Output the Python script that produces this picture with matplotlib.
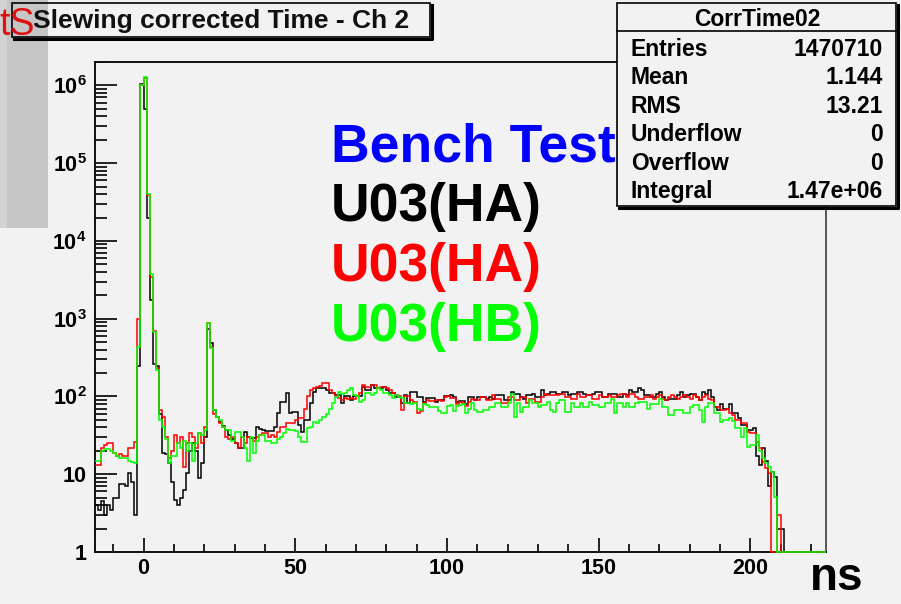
import numpy as np
import matplotlib.pyplot as plt
from matplotlib.patches import Rectangle
from matplotlib.lines import Line2D
from matplotlib.ticker import MultipleLocator, LogLocator, NullFormatter

plt.rcParams['font.family'] = ['Liberation Sans', 'DejaVu Sans']
plt.rcParams['font.weight'] = 'bold'
plt.rcParams['mathtext.fontset'] = 'custom'
plt.rcParams['mathtext.rm'] = 'Liberation Sans:bold'
plt.rcParams['mathtext.bf'] = 'Liberation Sans:bold'

bin_edges = np.arange(-16, 226)

# counts per bin from -16 ns to 210 ns, one row = 10 bins (later bins are empty)
ha_black = [
    4, 3.5, 4.5, 3, 4, 3.5, 5, 5, 7.5, 7.5,                       # -16
    7, 10.5, 8, 3, 250, 1.03e6, 5.0e5, 2.0e4, 1.74e3, 260,         # -6
    250, 60, 19, 18, 14, 8, 4.7, 4, 5, 6.3,                        # 4
    10.3, 20, 25, 20, 9, 14, 30, 740, 480, 67,                     # 14
    55, 47, 42, 37, 32, 28, 25, 22, 22, 35,                        # 24
    30, 29, 29, 40, 38, 37, 36, 36, 36, 40,                        # 34
    61, 85, 85, 110, 61, 63, 63, 43, 35, 50,                       # 44
    50, 82, 114, 128, 128, 128, 120, 110, 110, 105,                # 54
    105, 82, 100, 100, 90, 100, 100, 100, 132, 121,                # 64
    121, 139, 130, 130, 130, 132, 120, 110, 110, 98,               # 74
    98, 82, 105, 82, 114, 114, 98, 98, 85, 95,                     # 84
    95, 95, 85, 90, 90, 100, 100, 104, 98, 85,                     # 94
    88, 88, 80, 98, 99, 90, 99, 99, 99, 94,                        # 104
    99, 94, 104, 104, 104, 90, 90, 114, 109, 109,                  # 114
    99, 94, 104, 104, 109, 99, 99, 121, 104, 109,                  # 124
    114, 114, 109, 109, 114, 114, 104, 109, 109, 114,              # 134
    114, 109, 104, 104, 109, 114, 114, 99, 99, 109,                # 144
    109, 109, 99, 99, 109, 104, 121, 114, 114, 128,                # 154
    121, 104, 104, 99, 99, 109, 114, 99, 90, 94,                   # 164
    94, 94, 104, 114, 99, 104, 109, 109, 99, 90,                   # 174
    114, 109, 121, 99, 74, 67, 79, 70, 70, 79,                     # 184
    61, 61, 53, 43, 43, 37, 37, 39, 17, 13,                        # 194
    22, 15, 7, 10.8, 9.3, 2, 2,                                    # 204
]

ha_red = [
    13, 13, 22, 24, 25, 25, 19, 17, 18, 17,
    17, 22, 22, 26, 1000, 1.0e6, 1.25e6, 3.9e4, 3.4e3, 700,
    230, 67, 55, 30, 16, 20, 32, 25, 30, 12.4,
    25, 34, 30, 22, 34, 25, 40, 870, 435, 60,
    55, 45, 40, 30, 28, 30, 25, 22, 30, 25,
    30, 29, 27, 30, 32, 34, 34, 30, 32, 30,
    35, 40, 40, 45, 45, 45, 50, 53, 53, 70,
    100, 120, 128, 132, 135, 148, 148, 120, 110, 100,
    95, 90, 95, 92, 95, 92, 100, 110, 139, 132,
    132, 139, 139, 128, 134, 134, 128, 120, 110, 104,
    100, 67, 100, 100, 90, 85, 61, 65, 82, 90,
    88, 88, 90, 90, 88, 98, 100, 96, 95, 80,
    85, 82, 75, 85, 94, 90, 90, 99, 99, 90,
    90, 104, 94, 94, 82, 82, 99, 99, 90, 90,
    99, 99, 82, 94, 94, 86, 86, 99, 109, 104,
    104, 104, 104, 109, 109, 99, 99, 94, 94, 109,
    99, 99, 104, 104, 94, 94, 104, 99, 99, 104,
    99, 99, 104, 109, 109, 99, 109, 109, 99, 94,
    94, 99, 99, 104, 94, 99, 104, 94, 90, 99,
    104, 99, 94, 99, 104, 99, 94, 104, 99, 90,
    99, 104, 94, 90, 74, 74, 67, 67, 70, 62,
    58, 50, 50, 45, 45, 35, 34, 34, 26, 21.5,
    14.5, 12, 10.3, 0, 0, 3, 0,
]

hb_green = [
    15, 15, 20, 21, 21, 20, 19, 17, 16, 16,
    16, 15, 14.5, 14, 435, 1.0e6, 1.27e6, 4.0e4, 3.8e3, 680,
    220, 50, 40, 28, 14, 17, 17, 25, 22, 27,
    20, 25, 15, 25, 34, 32, 37, 870, 420, 67,
    55, 50, 40, 37, 37, 27, 35, 35, 30, 22,
    15, 30, 18.7, 27, 32, 32, 27, 27, 25, 25,
    28, 30, 34, 38, 37, 37, 36, 30, 26, 26,
    39, 40, 47, 45, 50, 55, 60, 70, 82, 98,
    114, 108, 110, 121, 128, 105, 100, 85, 90, 110,
    112, 105, 110, 128, 120, 110, 110, 105, 95, 105,
    98, 95, 82, 82, 80, 82, 70, 67, 80, 78,
    73, 74, 73, 65, 61, 62, 75, 78, 65, 75,
    78, 80, 62, 70, 82, 67, 63, 63, 67, 67,
    74, 74, 82, 82, 74, 74, 82, 109, 55, 82,
    63, 74, 74, 90, 82, 82, 74, 78, 78, 86,
    67, 63, 82, 90, 90, 63, 63, 82, 74, 74,
    82, 74, 74, 86, 78, 78, 74, 74, 82, 82,
    94, 61, 82, 82, 74, 82, 74, 74, 82, 85,
    85, 85, 70, 80, 80, 80, 94, 74, 74, 58,
    58, 67, 67, 67, 61, 61, 74, 78, 78, 67,
    47, 74, 82, 82, 61, 61, 47, 50, 50, 53,
    49, 39, 39, 30, 39, 22.5, 24, 24, 32, 20,
    16, 14, 12.4, 10.8, 5.1, 0, 0,
]

x_ticks = [0, 50, 100, 150, 200]
y_ticks = [1, 10, 1e2, 1e3, 1e4, 1e5, 1e6]
y_ticklabels = ['1', '10', r'$10^{2}$', r'$10^{3}$', r'$10^{4}$', r'$10^{5}$', r'$10^{6}$']

title = 'Slewing corrected Time - Ch 2'
stat_name = 'CorrTime02'
stat_labels = ['Entries', 'Mean', 'RMS', 'Underflow', 'Overflow', 'Integral']
stat_values = ['1470710', '1.144', '13.21', '0', '0', '1.47e+06']
note_lines = ['Bench Test', 'U03(HA)', 'U03(HA)', 'U03(HB)']
note_colors = ['#0000ff', '#000000', '#ff0000', '#00ff00']

W, H = 901, 604
bg = '#f2f2f2'


def fx(px):
    return px / W


def fy(py):
    return 1 - py / H


fig = plt.figure(figsize=(W / 100, H / 100), dpi=100, facecolor=bg)
ax = fig.add_axes([fx(95), fy(552), 731 / W, 490 / H], facecolor=bg)

nb = len(bin_edges) - 1
for counts, col in [(ha_black, '#000000'), (ha_red, '#ff0000'), (hb_green, '#00ff00')]:
    full = np.concatenate([np.array(counts, float), np.zeros(nb - len(counts))])
    ax.stairs(np.clip(full, 1, None), bin_edges, baseline=None,
              color=col, lw=1.1, zorder=3, clip_on=False)

ax.set_yscale('log')
ax.set_xlim(-16, 225)
ax.set_ylim(1, 2e6)

ax.set_xticks(x_ticks)
ax.xaxis.set_minor_locator(MultipleLocator(10))
ax.set_yticks(y_ticks)
ax.set_yticklabels(y_ticklabels)
ax.yaxis.set_minor_locator(LogLocator(base=10, subs=np.arange(2, 10)))
ax.yaxis.set_minor_formatter(NullFormatter())

ax.tick_params(axis='x', which='major', direction='in', length=10, width=1.2,
               labelsize=15.5, pad=4, top=False)
ax.tick_params(axis='x', which='minor', direction='in', length=6, width=1.2, top=False)
ax.tick_params(axis='y', which='major', direction='in', length=16, width=1.2,
               labelsize=15.5, pad=6, right=False)
ax.tick_params(axis='y', which='minor', direction='in', length=8.5, width=1.2, right=False)

for side in ['left', 'bottom', 'top']:
    ax.spines[side].set_linewidth(1.4)
    ax.spines[side].set_color('#111111')
ax.spines['right'].set_linewidth(1.4)
ax.spines['right'].set_color('#555555')

# gray block and red fragment at the top left
fig.add_artist(Rectangle((fx(0), fy(228)), 48 / W, 228 / H, transform=fig.transFigure,
                         facecolor='#c6c6c6', edgecolor='none', zorder=1))
fig.add_artist(Rectangle((fx(0), fy(228)), 7 / W, 228 / H, transform=fig.transFigure,
                         facecolor='#d2d2d2', edgecolor='none', zorder=1))


def box_with_shadow(x0, y0, x1, y1, fill):
    fig.add_artist(Line2D([fx(x0 + 2), fx(x1 + 2), fx(x1 + 2)], [fy(y1 + 2), fy(y1 + 2), fy(y0 + 2)],
                          transform=fig.transFigure, color='black', lw=2.2, zorder=4))
    fig.add_artist(Rectangle((fx(x0), fy(y1)), (x1 - x0) / W, (y1 - y0) / H,
                             transform=fig.transFigure, facecolor=fill,
                             edgecolor='black', lw=1.2, zorder=5))


# title box
box_with_shadow(12, 3, 430, 37, 'none')
fig.text(fx(33), fy(28), title, fontsize=19, color='#111111', va='baseline', zorder=6)
fig.text(fx(-1), fy(35), 'tS', fontsize=27, color='#dd1111', fontweight='normal',
         va='baseline', zorder=7)

# text block inside the frame
for i, (txt, col) in enumerate(zip(note_lines, note_colors)):
    fig.text(fx(331), fy(161 + 60 * i), txt, fontsize=38.5, color=col, va='baseline', zorder=6)

# stats box
box_with_shadow(617, 3, 896, 206, bg)
fig.add_artist(Line2D([fx(617), fx(896)], [fy(31), fy(31)], transform=fig.transFigure,
                      color='black', lw=1.2, zorder=6))
fig.text(fx(757), fy(26), stat_name, fontsize=16.5, ha='center', va='baseline', zorder=6)
for i, (lab, val) in enumerate(zip(stat_labels, stat_values)):
    yb = 56 + 28.4 * i
    fig.text(fx(631), fy(yb), lab, fontsize=16.5, ha='left', va='baseline', zorder=6)
    fig.text(fx(883), fy(yb), val, fontsize=16.5, ha='right', va='baseline', zorder=6)

# axis unit in the lower right corner
fig.text(fx(810), fy(590), 'ns', fontsize=33, ha='left', va='baseline', zorder=6)

fig.savefig('out.png', dpi=100, facecolor=bg)
